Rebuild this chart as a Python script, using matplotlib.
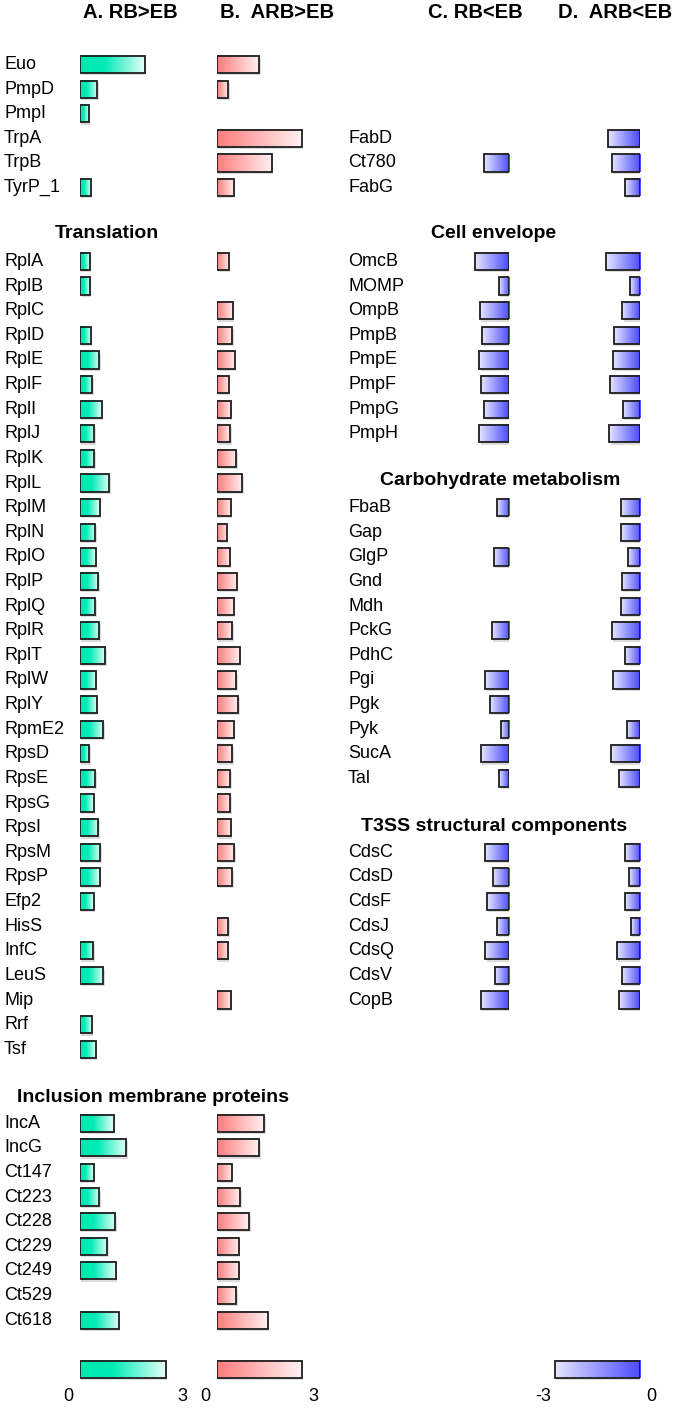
import numpy as np
import matplotlib.pyplot as plt
from matplotlib.colors import LinearSegmentedColormap

plt.rcParams['font.family'] = ['Liberation Sans', 'DejaVu Sans']

# ---- data (log fold change) ----
titles = ['A. RB>EB', 'B.  ARB>EB', 'C. RB<EB', 'D.  ARB<EB']

top_genes = ['Euo', 'PmpD', 'PmpI', 'TrpA', 'TrpB', 'TyrP_1']
top_A = [2.27, 0.60, 0.30, None, None, 0.37]
top_B = [1.50, 0.42, None, 3.00, 1.93, 0.60]

trans_genes = ['RplA', 'RplB', 'RplC', 'RplD', 'RplE', 'RplF', 'RplI', 'RplJ',
               'RplK', 'RplL', 'RplM', 'RplN', 'RplO', 'RplP', 'RplQ', 'RplR',
               'RplT', 'RplW', 'RplY', 'RpmE2', 'RpsD', 'RpsE', 'RpsG', 'RpsI',
               'RpsM', 'RpsP', 'Efp2', 'HisS', 'InfC', 'LeuS', 'Mip', 'Rrf', 'Tsf']
trans_A = [0.34, 0.34, None, 0.38, 0.67, 0.43, 0.76, 0.50, 0.50, 1.03, 0.69,
           0.54, 0.56, 0.64, 0.53, 0.68, 0.88, 0.55, 0.58, 0.82, 0.33, 0.53,
           0.49, 0.64, 0.71, 0.69, 0.48, None, 0.47, 0.82, None, 0.41, 0.55]
trans_B = [0.43, None, 0.57, 0.55, 0.64, 0.43, 0.50, 0.48, 0.69, 0.90, 0.50,
           0.37, 0.47, 0.71, 0.60, 0.56, 0.82, 0.70, 0.76, 0.60, 0.56, 0.49,
           0.49, 0.50, 0.62, 0.55, None, 0.42, 0.40, None, 0.51, None, None]

inc_genes = ['IncA', 'IncG', 'Ct147', 'Ct223', 'Ct228', 'Ct229', 'Ct249', 'Ct529', 'Ct618']
inc_A = [1.19, 1.63, 0.48, 0.68, 1.24, 0.96, 1.26, None, 1.37]
inc_B = [1.68, 1.50, 0.53, 0.83, 1.15, 0.78, 0.79, 0.69, 1.80]

fat_genes = ['FabD', 'Ct780', 'FabG']
fat_C = [None, -0.88, None]
fat_D = [-1.11, -0.99, -0.53]

env_genes = ['OmcB', 'MOMP', 'OmpB', 'PmpB', 'PmpE', 'PmpF', 'PmpG', 'PmpH']
env_C = [-1.19, -0.36, -1.02, -0.95, -1.04, -0.98, -0.87, -1.04]
env_D = [-1.20, -0.36, -0.62, -0.91, -0.94, -1.05, -0.61, -1.08]

carb_genes = ['FbaB', 'Gap', 'GlgP', 'Gnd', 'Mdh', 'PckG', 'PdhC', 'Pgi',
              'Pgk', 'Pyk', 'SucA', 'Tal']
carb_C = [-0.43, None, -0.54, None, None, -0.61, None, -0.84, -0.67, -0.29, -0.98, -0.34]
carb_D = [-0.68, -0.68, -0.43, -0.64, -0.68, -0.99, -0.54, -0.94, None, -0.45, -1.03, -0.73]

t3_genes = ['CdsC', 'CdsD', 'CdsF', 'CdsJ', 'CdsQ', 'CdsV', 'CopB']
t3_C = [-0.84, -0.57, -0.78, -0.43, -0.83, -0.50, -0.98]
t3_D = [-0.54, -0.40, -0.53, -0.33, -0.82, -0.64, -0.73]

# ---- layout ----
W, H = 676, 1409
row0, pitch = 64.5, 24.62
ylim = ((H - row0) / pitch, -row0 / pitch)
ppu = 28.5  # pixels per unit
bh = 0.70

green = LinearSegmentedColormap.from_list('g', [(0, '#00E8B0'), (0.38, '#00EBB6'), (1, '#E6FFF8')])
red = LinearSegmentedColormap.from_list('r', ['#FF7B7B', '#FFF3F3'])
blue = LinearSegmentedColormap.from_list('b', ['#E6E6FF', '#4A4AFF'])

fig = plt.figure(figsize=(W / 100, H / 100), dpi=100)
base = fig.add_axes([0, 0, 1, 1])
base.set_xlim(0, W)
base.set_ylim(*ylim)
base.axis('off')


def panel(x0, lo, hi):
    ax = fig.add_axes([x0 / W, 0, (hi - lo) * ppu / W, 1])
    ax.patch.set_alpha(0)
    ax.axis('off')
    return ax, (lo, hi)


axA = panel(80, 0, 4)
axB = panel(216.5, 0, 4)
axC = panel(509 - 4 * ppu, -4, 0)
axD = panel(640 - 4 * ppu, -4, 0)

grad = np.linspace(0, 1, 256).reshape(1, -1)


def draw_bars(axlim, rows, vals, cmap):
    ax, _ = axlim
    for r, v in zip(rows, vals):
        if v is None:
            continue
        b = ax.barh(r, v, height=bh, color='none', edgecolor='#1e1e1e',
                    linewidth=1.3, zorder=3)[0]
        x0, x1 = sorted((b.get_x(), b.get_x() + b.get_width()))
        ax.barh(r + 0.09, v, left=0.05, height=bh, color='#dcdcdc', zorder=1)
        ax.imshow(grad, cmap=cmap, aspect='auto', interpolation='bilinear',
                  extent=(x0, x1, r + bh / 2, r - bh / 2), zorder=2)


def section(rows_start, genes, va, vb, ax1, ax2, cmap1, cmap2, xlab):
    rows = list(range(rows_start, rows_start + len(genes)))
    for r, g in zip(rows, genes):
        base.text(xlab, r, g, fontsize=13, va='center', ha='left')
    draw_bars(ax1, rows, va, cmap1)
    draw_bars(ax2, rows, vb, cmap2)


def header(row, text, xc):
    base.text(xc, row, text, fontsize=14, fontweight='bold', ha='center', va='center')


# titles
for t, xc in zip(titles, [130, 277, 475, 615]):
    base.text(xc, -2.1, t, fontsize=14.5, fontweight='bold', ha='center', va='center')

# left column
section(0, top_genes, top_A, top_B, axA, axB, green, red, 4)
header(6.85, 'Translation', 107)
section(8, trans_genes, trans_A, trans_B, axA, axB, green, red, 4)
header(41.95, 'Inclusion membrane proteins', 153)
section(43, inc_genes, inc_A, inc_B, axA, axB, green, red, 4)

# right column
section(3, fat_genes, fat_C, fat_D, axC, axD, blue, blue, 348)
header(6.85, 'Cell envelope', 494)
section(8, env_genes, env_C, env_D, axC, axD, blue, blue, 348)
header(16.9, 'Carbohydrate metabolism', 500)
section(18, carb_genes, carb_C, carb_D, axC, axD, blue, blue, 348)
header(30.95, 'T3SS structural components', 494)
section(32, t3_genes, t3_C, t3_D, axC, axD, blue, blue, 348)

# scale bars
draw_bars(axA, [53], [3], green)
draw_bars(axB, [53], [3], red)
draw_bars(axD, [53], [-3], blue)
for (ax, _), ticks in [(axA, [(-0.4, '0'), (3.6, '3')]),
                       (axB, [(-0.4, '0'), (3.4, '3')]),
                       (axD, [(-3.4, '-3'), (0.4, '0')])]:
    for x, s in ticks:
        ax.text(x, 54.1, s, fontsize=13, ha='center', va='center', clip_on=False)

for ax, lim in [axA, axB, axC, axD]:
    ax.set_xlim(*lim)
    ax.set_ylim(*ylim)

fig.savefig('out.png', dpi=100)
